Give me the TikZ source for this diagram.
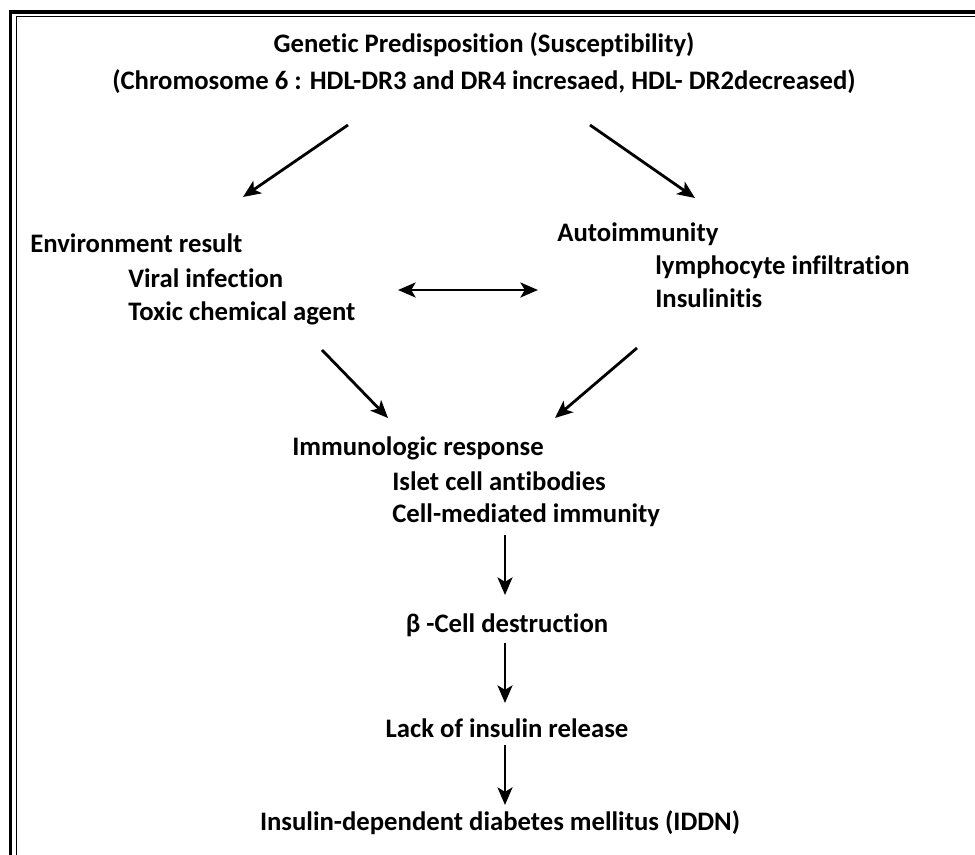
\documentclass[tikz,border=0pt]{standalone}
\usepackage{fontspec}
\setmainfont{Carlito}[Ligatures=NoCommon]
\usepackage{tikz}
\usetikzlibrary{arrows.meta,positioning,calc}
\tikzset{>={Stealth[length=10pt,width=8.5pt,inset=2.5pt]},
         txt/.style={inner sep=0pt,font=\bfseries\fontsize{15.2}{18}\selectfont},
         flow/.style={->,line width=1.6pt}}

\begin{document}
\begin{tikzpicture}[x=0.02cm,y=-0.02cm]
            \useasboundingbox (0,0) rectangle (975,855);
            \draw[line width=0.08cm] (10.5,855) -- (10.5,12) -- (975,12);
            \draw[line width=0.032cm] (16.3,855) -- (16.3,16.5) -- (975,16.5);
            \node[txt,anchor=base] (gen) at (484,53) {Genetic Predisposition (Susceptibility)};
            \node[txt,anchor=base] (chr) at (484,90)
                 {(Chromosome 6 : HDL-DR3 and DR4 incresaed, HDL- DR2decreased)};
            \node[txt,anchor=base west] (env) at (30,253) {Environment result};
            \node[txt,anchor=base west] (vir) at (128,288) {Viral infection};
            \node[txt,anchor=base west] (tox) at (128,320) {Toxic chemical agent};
            \node[txt,anchor=base west] (aut) at (557,242) {Autoimmunity};
            \node[txt,anchor=base west] (lym) at (655,275) {lymphocyte infiltration};
            \node[txt,anchor=base west] (ins) at (655,308) {Insulinitis};
            \node[txt,anchor=base west] (imm) at (292,455) {Immunologic response};
            \node[txt,anchor=base west] (isl) at (392,490) {Islet cell antibodies};
            \node[txt,anchor=base west] (cmi) at (392,522) {Cell-mediated immunity};
            \node[txt,anchor=base] (bet) at (507,632) {β -Cell destruction};
            \node[txt,anchor=base] (lac) at (507,737) {Lack of insulin release};
            \node[txt,anchor=base] (idd) at (500,830)
                 {Insulin-dependent diabetes mellitus (IDDN)};
            \coordinate (gl) at (348,125); \coordinate (el) at (243,197);
            \coordinate (gr) at (590,125); \coordinate (ar) at (695,198);
            \coordinate (dl) at (398,290); \coordinate (dr) at (538,290);
            \coordinate (tl) at (322,350); \coordinate (il) at (388,418);
            \coordinate (tr) at (637,348); \coordinate (ir) at (555,418);
            \coordinate (c1) at (505,535); \coordinate (b1) at (505,595);
            \coordinate (c2) at (505,643); \coordinate (b2) at (505,703);
            \coordinate (c3) at (505,745); \coordinate (b3) at (505,805);
            \draw[flow] (gl) -- (el);
            \draw[flow] (gr) -- (ar);
            \draw[flow,<->] (dl) -- (dr);
            \draw[flow] (tl) -- (il);
            \draw[flow] (tr) -- (ir);
            \draw[flow] (c1) -- (b1);
            \draw[flow] (c2) -- (b2);
            \draw[flow] (c3) -- (b3);
          \end{tikzpicture}
\end{document}
